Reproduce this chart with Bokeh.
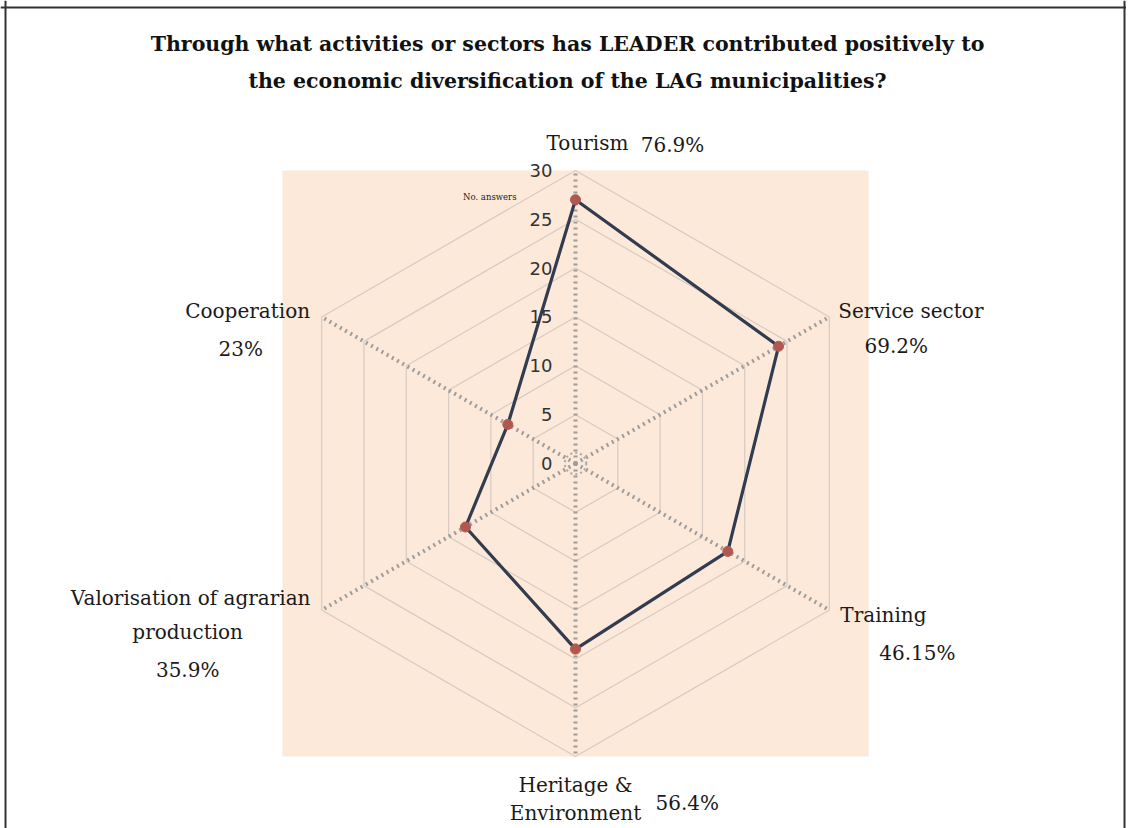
import numpy as np
from bokeh.plotting import figure
from bokeh.models import Range1d, Span, Label
from bokeh.core.properties import value
from bokeh.embed import file_html
from bokeh.resources import INLINE

# ---------------- data ----------------
categories = ["Tourism", "Service sector", "Training", "Heritage &\nEnvironment",
              "Valorisation of agrarian\nproduction", "Cooperation"]
answers = [27, 24, 18, 19, 13, 8]
percent_labels = ["76.9%", "69.2%", "46.15%", "56.4%", "35.9%", "23%"]
ring_ticks = [0, 5, 10, 15, 20, 25, 30]
axis_max = 30
title_lines = ["Through what activities or sectors has LEADER contributed positively to",
               "the economic diversification of the LAG municipalities?"]
axis_title = "No. answers"

# ---------------- layout ----------------
W, H = 1126, 828
cx_px, cy_px = 575, 463          # centre of radar within the canvas (px)
k = 9.77                          # px per answer
angles = np.deg2rad(90 - 60 * np.arange(len(categories)))

# per-category label layout: (dx, dy, align) in px for each line of the name, then for the percentage
label_layout = [
    {"name": [(12, -27, "center")], "pct": (97, -25, "center")},
    {"name": [(9, -6, "left")], "pct": (67, 29, "center")},
    {"name": [(11, 5, "left")], "pct": (88, 43, "center")},
    {"name": [(0, 28, "center"), (0, 56, "center")], "pct": (80, 46, "left")},
    {"name": [(-131, -12, "center"), (-134, 22, "center")], "pct": (-134, 60, "center")},
    {"name": [(-74, -6, "center")], "pct": (-81, 32, "center")},
]

p = figure(width=W, height=H, output_backend="svg", toolbar_location=None,
           x_axis_type=None, y_axis_type=None,
           x_range=Range1d(-cx_px / k, (W - cx_px) / k),
           y_range=Range1d(-(H - cy_px) / k, cy_px / k),
           min_border=0, min_border_left=0, min_border_right=0,
           min_border_top=0, min_border_bottom=0)
p.outline_line_color = None
p.background_fill_color = "white"
p.border_fill_color = "white"

# plot-area background
p.quad(left=-axis_max, right=axis_max, bottom=-axis_max, top=axis_max,
       fill_color="#FDE9D9", line_color=None)

# hexagonal rings
ring_xs, ring_ys = [], []
for r in ring_ticks[1:]:
    a = np.append(angles, angles[0])
    ring_xs.append(list(r * np.cos(a)))
    ring_ys.append(list(r * np.sin(a)))
p.multi_line(ring_xs, ring_ys, line_color="#D6CAC2", line_width=1.2)

# spokes (dotted)
sp_xs = [[0, axis_max * np.cos(a)] for a in angles]
sp_ys = [[0, axis_max * np.sin(a)] for a in angles]
p.multi_line(sp_xs, sp_ys, line_color="#9C9C9C", line_width=4, line_dash="2 4")
p.circle(x=[0], y=[0], radius=1.1, fill_color=None, line_color="#A8A8A8",
         line_width=2, line_dash="2 3")

# series
vx = [v * np.cos(a) for v, a in zip(answers, angles)]
vy = [v * np.sin(a) for v, a in zip(answers, angles)]
p.line(vx + [vx[0]], vy + [vy[0]], line_color="#323C50", line_width=3.2)
p.scatter(vx, vy, size=10, fill_color="#B0574F", line_color="#B0574F")

# tick labels
p.text(x=[0] * len(ring_ticks), y=ring_ticks, text=[str(t) for t in ring_ticks],
       x_offset=-23, text_align="right", text_baseline="middle",
       text_font=value("DejaVu Sans"), text_font_size="18px", text_color="#333333")
p.text(x=[0], y=[axis_max], text=[axis_title], x_offset=-59, y_offset=27,
       text_align="right", text_baseline="middle",
       text_font=value("DejaVu Serif"), text_font_size="8.5px", text_color="#222222")

# category labels
font = value("DejaVu Serif")
for i, (name, pct) in enumerate(zip(categories, percent_labels)):
    ex, ey = axis_max * np.cos(angles[i]), axis_max * np.sin(angles[i])
    lines = name.split("\n")
    for line, (dx, dy, al) in zip(lines, label_layout[i]["name"]):
        p.text(x=[ex], y=[ey], text=[line], x_offset=dx, y_offset=dy,
               text_align=al, text_baseline="middle", text_font=font,
               text_font_size="20px", text_color="#1A1A1A")
    dx, dy, al = label_layout[i]["pct"]
    p.text(x=[ex], y=[ey], text=[pct], x_offset=dx, y_offset=dy,
           text_align=al, text_baseline="middle", text_font=font,
           text_font_size="20px", text_color="#1A1A1A")

# title
for j, t in enumerate(title_lines):
    p.add_layout(Label(x=567, y=H - 43 - 37 * j, x_units="screen", y_units="screen",
                       text=t, text_align="center", text_baseline="middle",
                       text_font="DejaVu Serif", text_font_style="bold",
                       text_font_size="20.5px", text_color="#111111"))

# frame border (left, top, right)
xr, yr = p.x_range, p.y_range
p.add_layout(Span(location=xr.start + 5 / k, dimension="height", line_color="#333333", line_width=2))
p.add_layout(Span(location=xr.start + 1124 / k, dimension="height", line_color="#333333", line_width=2))
p.add_layout(Span(location=yr.end - 7 / k, dimension="width", line_color="#333333", line_width=2))

open("out.html", "w").write(file_html(p, INLINE))
